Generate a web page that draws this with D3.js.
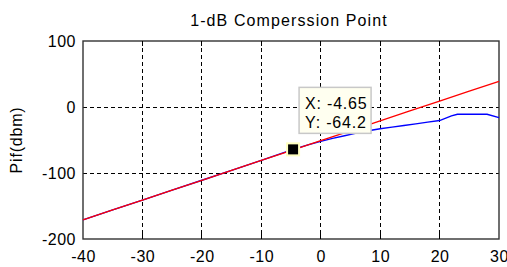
<!DOCTYPE html>
<html>
<head>
<meta charset="utf-8">
<script src="https://cdn.jsdelivr.net/npm/d3@7"></script>
<style>
    body { margin: 0; background: #fff; }
    svg text { font-family: "Liberation Sans", Arial, sans-serif; fill: #000; }
</style>
</head>
<body>
<div id="chart"></div>
<script>
// Input power (dBm) sweep
const redX = [-40, -35, -30, -25, -20, -15, -10, -5, 0, 5, 10, 15, 20, 25, 30];
const redY = [-171, -156, -141, -126, -111, -96, -81, -66, -51, -36, -21, -6, 9, 24, 39];

const blueX = [-40, -35, -30, -25, -20, -15, -10, -4.65, -2, 0, 2, 4, 6, 8, 10, 12, 14, 16, 18, 20, 22, 23, 25, 28, 30];
const blueY = [-171, -156, -141, -126, -111, -96, -81, -64.2, -57, -52, -47.5, -43.5, -39.5, -36, -33, -30.5, -28, -25.5, -23, -20.5, -13.5, -11, -11, -11, -16];

const xTicks = [-40, -30, -20, -10, 0, 10, 20, 30];
const yTicks = [-200, -100, 0, 100];

// data cursor
const cursorX = -4.65;
const cursorY = -64.2;

const W = 507, H = 267;
const margin = {top: 41, right: 8, bottom: 28, left: 83};
const width = W - margin.left - margin.right;
const height = H - margin.top - margin.bottom;

const svg = d3.select("#chart")
    .append("svg")
    .attr("width", W)
    .attr("height", H);

const g = svg.append("g")
    .attr("transform", `translate(${margin.left},${margin.top})`);

const x = d3.scaleLinear().domain([-40, 30]).range([0, width]);
const y = d3.scaleLinear().domain([-200, 100]).range([height, 0]);

// Title
svg.append("text")
    .attr("x", margin.left + width / 2 - 2)
    .attr("y", 26)
    .attr("text-anchor", "middle")
    .style("font-size", "16px")
    .style("letter-spacing", "1.1px")
    .text("1-dB Comperssion Point");

// Y label
svg.append("text")
    .attr("transform", `translate(16,${margin.top + height / 2}) rotate(-90)`)
    .attr("text-anchor", "middle")
    .attr("dy", "0.35em")
    .style("font-size", "16px")
    .style("letter-spacing", "0.8px")
    .text("Pif(dbm)");

// Grid
g.append("g")
    .attr("class", "grid")
    .selectAll("line.gx")
    .data(xTicks.slice(1, -1))
    .join("line")
    .attr("x1", d => x(d)).attr("x2", d => x(d))
    .attr("y1", 0).attr("y2", height)
    .attr("stroke", "#000")
    .attr("stroke-width", 1)
    .attr("stroke-dasharray", "4,3")
    .attr("shape-rendering", "crispEdges");

g.append("g")
    .attr("class", "grid")
    .selectAll("line.gy")
    .data(yTicks.slice(1, -1))
    .join("line")
    .attr("x1", 0).attr("x2", width)
    .attr("y1", d => y(d)).attr("y2", d => y(d))
    .attr("stroke", "#000")
    .attr("stroke-width", 1)
    .attr("stroke-dasharray", "4,3")
    .attr("shape-rendering", "crispEdges");

// Axes (plain hyphen for negatives, like the original)
const fmt = d => String(d);
const xAxis = d3.axisBottom(x).tickValues(xTicks).tickSize(0).tickPadding(12).tickFormat(fmt);
const yAxis = d3.axisLeft(y).tickValues(yTicks).tickSize(0).tickPadding(7).tickFormat(fmt);

const xAxisG = g.append("g")
    .attr("transform", `translate(0,${height})`)
    .call(xAxis);
const yAxisG = g.append("g").call(yAxis);

[xAxisG, yAxisG].forEach(a => {
    a.select(".domain").remove();
    a.selectAll("text")
        .style("font-size", "16px")
        .style("letter-spacing", "0.5px")
        .style("font-family", "Liberation Sans, Arial, sans-serif");
});
yAxisG.selectAll("text").attr("dy", "0.36em");

// Box
g.append("rect")
    .attr("x", 0).attr("y", 0)
    .attr("width", width).attr("height", height)
    .attr("fill", "none")
    .attr("stroke", "#333")
    .attr("stroke-width", 1.4);

// Inner ticks on bottom and top
[0, height].forEach(yy => {
    g.selectAll(null)
        .data(xTicks.slice(1, -1))
        .join("line")
        .attr("x1", d => x(d)).attr("x2", d => x(d))
        .attr("y1", yy).attr("y2", yy === 0 ? 5 : height - 5)
        .attr("stroke", "#000")
        .attr("shape-rendering", "crispEdges");
});

// Lines
const line = d3.line()
    .x(d => x(d[0]))
    .y(d => y(d[1]));

g.append("path")
    .datum(blueX.map((v, i) => [v, blueY[i]]))
    .attr("fill", "none")
    .attr("stroke", "#0000ff")
    .attr("stroke-width", 1.4)
    .attr("d", line);

g.append("path")
    .datum(redX.map((v, i) => [v, redY[i]]))
    .attr("fill", "none")
    .attr("stroke", "#ff0000")
    .attr("stroke-width", 1.3)
    .attr("d", line);

// Data cursor marker
const mx = x(cursorX), my = y(cursorY);
g.append("rect")
    .attr("x", mx - 7).attr("y", my - 7)
    .attr("width", 14).attr("height", 14)
    .attr("fill", "#ffffc0");
g.append("rect")
    .attr("x", mx - 5).attr("y", my - 5)
    .attr("width", 10).attr("height", 10)
    .attr("fill", "#000");

// Tooltip
const tip = g.append("g")
    .attr("transform", `translate(${mx + 6},${my - 62})`);
tip.append("rect")
    .attr("width", 72).attr("height", 46)
    .attr("fill", "#fffff0")
    .attr("stroke", "#c8c8c8")
    .attr("stroke-width", 1.5);
tip.append("text")
    .attr("x", 6).attr("y", 22)
    .style("font-size", "16px")
    .style("letter-spacing", "0.8px")
    .text(`X: ${cursorX}`);
tip.append("text")
    .attr("x", 6).attr("y", 41)
    .style("font-size", "16px")
    .style("letter-spacing", "0.8px")
    .text(`Y: ${cursorY}`);
</script>
</body>
</html>
